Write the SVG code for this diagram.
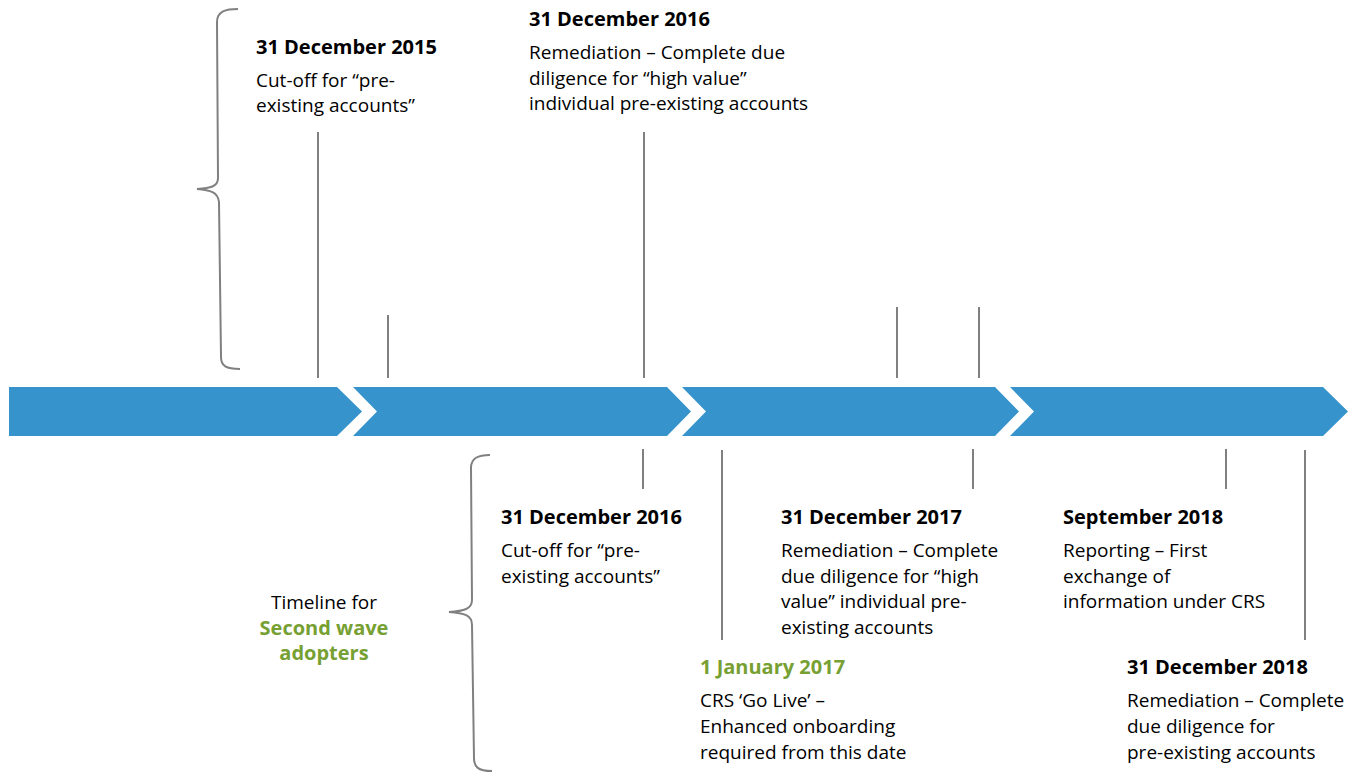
<svg xmlns="http://www.w3.org/2000/svg" width="1362" height="773" viewBox="0 0 1362 773">
<style>
.arrow{fill:#3793CB;}
.ln{stroke:#808080;stroke-width:2;fill:none;}
.brace{stroke:#808080;stroke-width:2;fill:none;}
text{font-family:"Open Sans","Noto Sans",sans-serif;font-size:19px;fill:#000;}
.t{font-weight:bold;font-size:20px;}
.g{fill:#77A033;}
</style>
<rect width="1362" height="773" fill="#fff"/>
<g id="timeline-arrows">
<polygon class="arrow" points="9,387 337,387 362,411.5 337,436 9,436"/>
<polygon class="arrow" points="353,387 667,387 691,411.5 667,436 353,436 377,411.5"/>
<polygon class="arrow" points="682,387 995,387 1019,411.5 995,436 682,436 706,411.5"/>
<polygon class="arrow" points="1010,387 1323,387 1348,411.5 1323,436 1010,436 1034,411.5"/>
</g>
<g id="connectors">
<line class="ln" x1="318" y1="132" x2="318" y2="378"/>
<line class="ln" x1="388" y1="315" x2="388" y2="378"/>
<line class="ln" x1="644" y1="132" x2="644" y2="378"/>
<line class="ln" x1="897" y1="307" x2="897" y2="378"/>
<line class="ln" x1="979" y1="307" x2="979" y2="378"/>
<line class="ln" x1="643" y1="449" x2="643" y2="489"/>
<line class="ln" x1="722" y1="450" x2="722" y2="640"/>
<line class="ln" x1="973" y1="449" x2="973" y2="489"/>
<line class="ln" x1="1226" y1="449" x2="1226" y2="489"/>
<line class="ln" x1="1305" y1="450" x2="1305" y2="640"/>
</g>
<g id="brace-top">
<path class="brace" d="M238,9 C226,9 217,11 217,22 L218,178 C218,187 210,188 197,189 C210,190 218,192 219,202 L221,357 C221,366 226,369 240,369"/>
</g>
<g id="brace-bottom">
<path class="brace" d="M490,455 C478,455 471,458 471,468 L472,600 C472,609 464,611 449,612 C464,613 472,615 472,625 L474,758 C474,767 478,771 492,771"/>
</g>
<g id="label-2015">
<text class="t" x="256" y="54">31 December 2015</text>
<text x="256" y="87">Cut-off for “pre-</text>
<text x="256" y="112">existing accounts”</text>
</g>
<g id="label-2016-top">
<text class="t" x="529" y="26">31 December 2016</text>
<text x="529" y="59">Remediation – Complete due</text>
<text x="529" y="85">diligence for “high value”</text>
<text x="529" y="110">individual pre-existing accounts</text>
</g>
<g id="label-2016-bottom">
<text class="t" x="501" y="524">31 December 2016</text>
<text x="501" y="557">Cut-off for “pre-</text>
<text x="501" y="583">existing accounts”</text>
</g>
<g id="label-2017">
<text class="t" x="781" y="524">31 December 2017</text>
<text x="781" y="557">Remediation – Complete</text>
<text x="781" y="583">due diligence for “high</text>
<text x="781" y="608">value” individual pre-</text>
<text x="781" y="634">existing accounts</text>
</g>
<g id="label-sep2018">
<text class="t" x="1063" y="524">September 2018</text>
<text x="1063" y="557">Reporting – First</text>
<text x="1063" y="583">exchange of</text>
<text x="1063" y="608">information under CRS</text>
</g>
<g id="label-jan2017">
<text class="t g" x="700" y="674">1 January 2017</text>
<text x="700" y="707">CRS ‘Go Live’ –</text>
<text x="700" y="733">Enhanced onboarding</text>
<text x="700" y="759">required from this date</text>
</g>
<g id="label-dec2018">
<text class="t" x="1127" y="674">31 December 2018</text>
<text x="1127" y="707">Remediation – Complete</text>
<text x="1127" y="733">due diligence for</text>
<text x="1127" y="759">pre-existing accounts</text>
</g>
<g id="label-timeline">
<text x="324" y="609" text-anchor="middle">Timeline for</text>
<text class="t g" x="324" y="635" text-anchor="middle">Second wave</text>
<text class="t g" x="324" y="660" text-anchor="middle">adopters</text>
</g>
</svg>
